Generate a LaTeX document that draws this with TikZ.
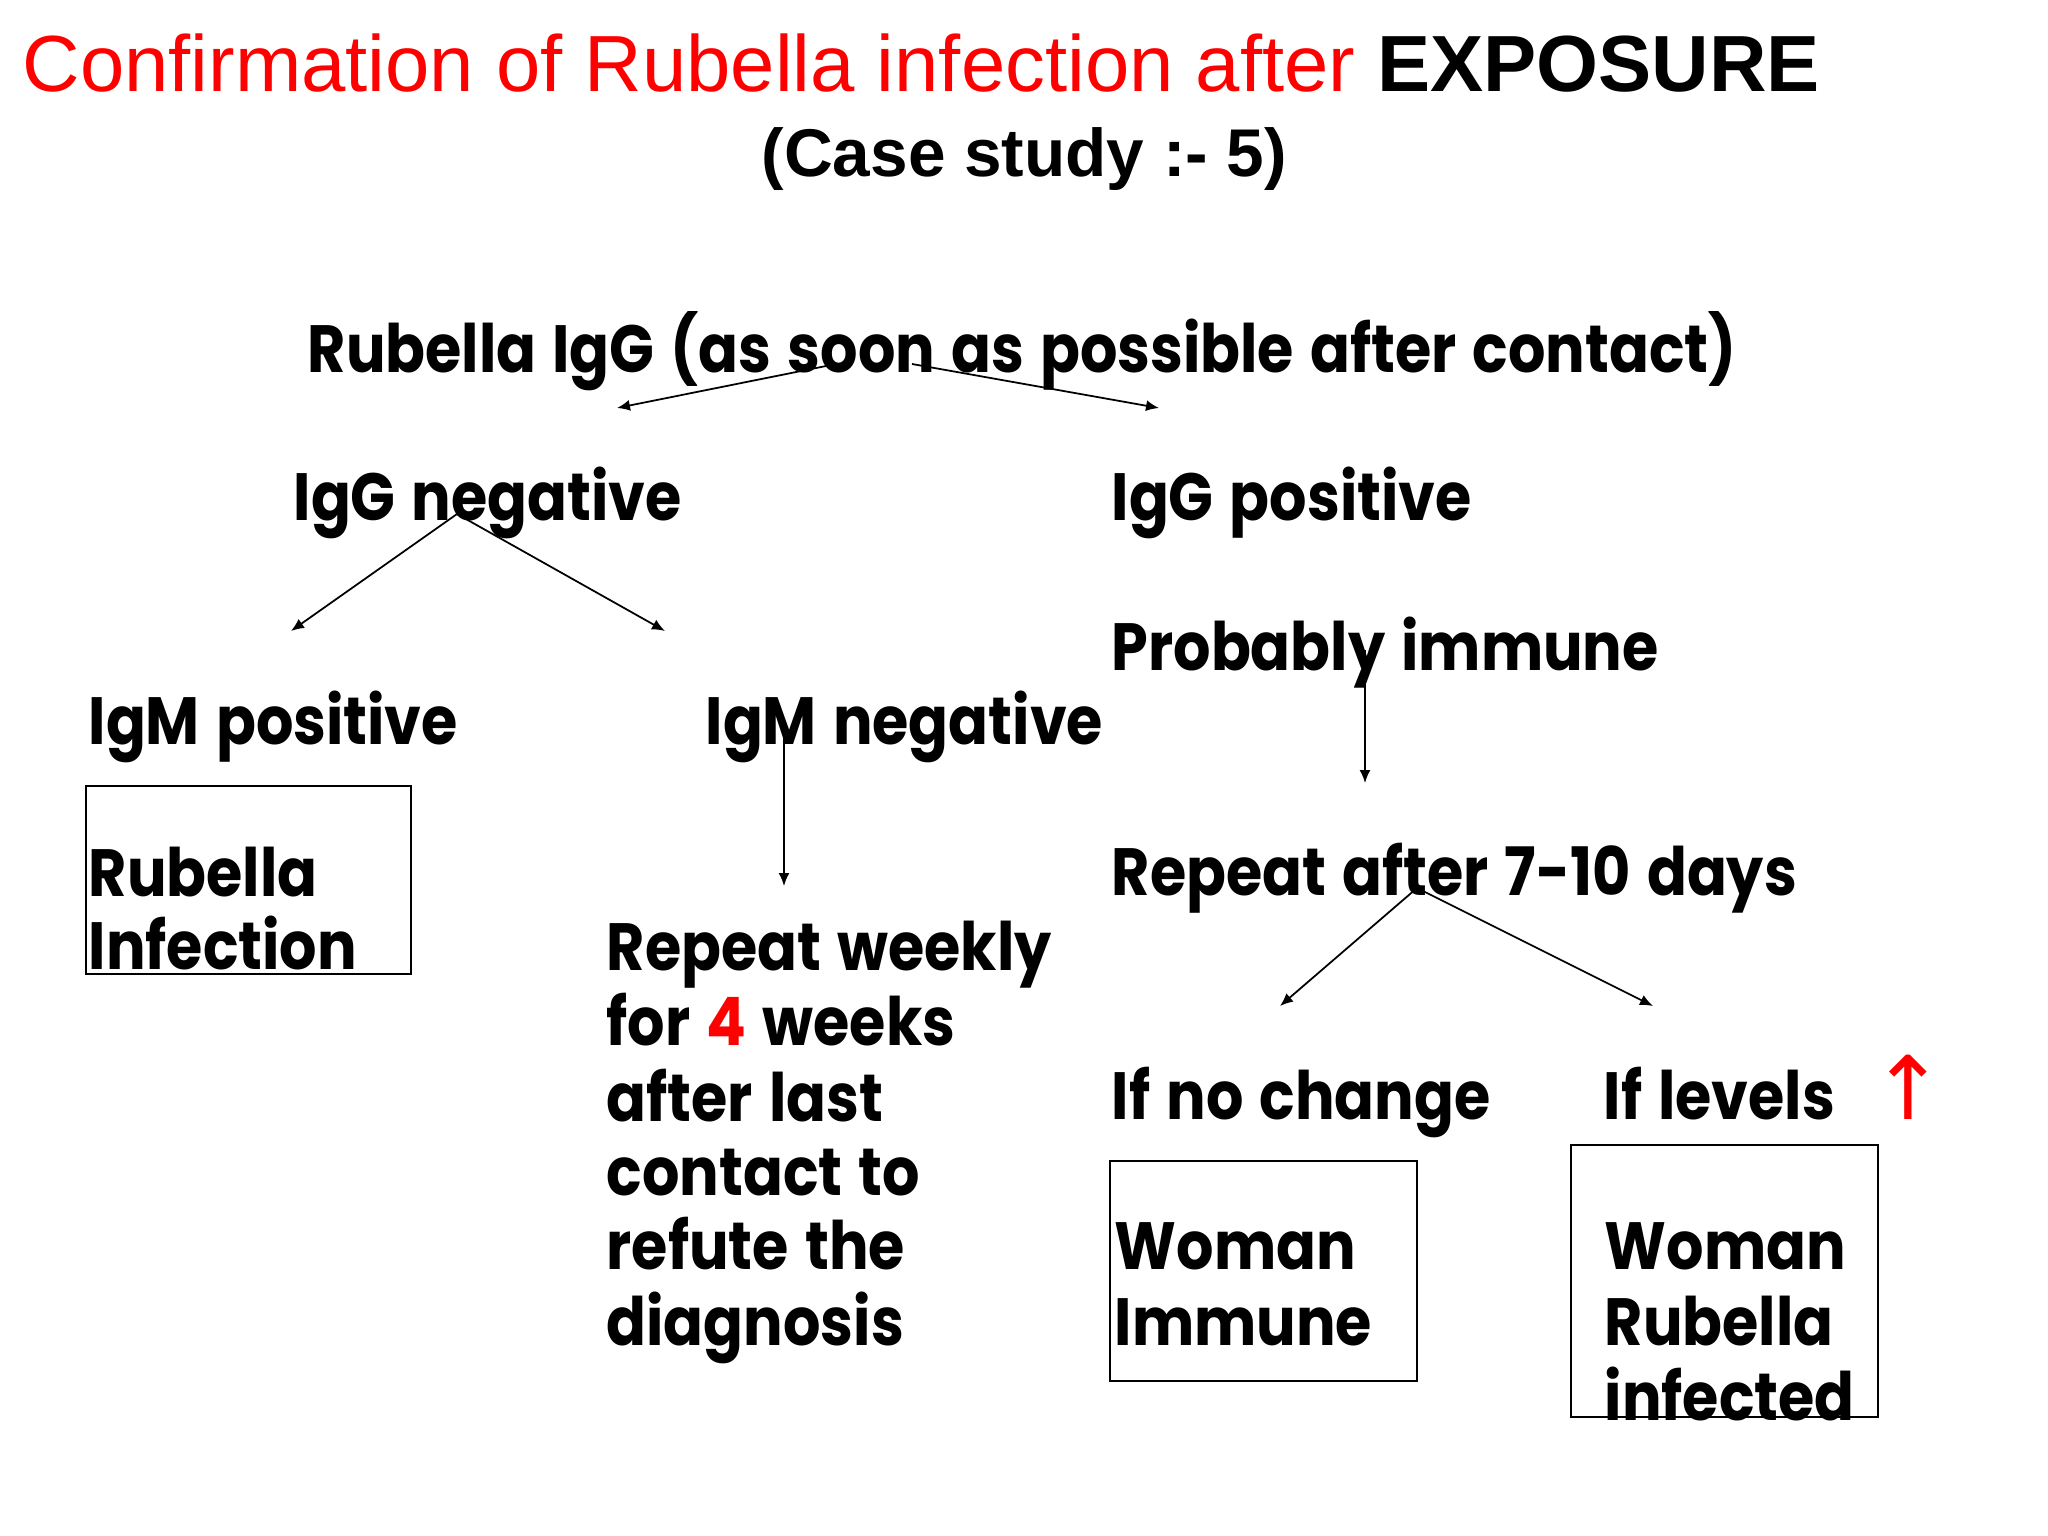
\documentclass[tikz,border=0pt]{standalone}
\usepackage{fontspec}
\setmainfont{Poppins}[FakeStretch=0.88,WordSpace=1.3]
\newfontfamily\arialf{Liberation Sans}
\newfontfamily\dejaf{DejaVu Sans}
\usetikzlibrary{arrows.meta}
\definecolor{titlered}{RGB}{255,0,0}
\begin{document}
\begin{tikzpicture}[x=0.01cm,y=-0.01cm,
  txt/.style={anchor=base west,inner sep=0pt,font=\fontsize{19}{21}\selectfont\bfseries},
  boxn/.style={draw=black,line width=0.5pt,inner sep=0pt,anchor=north west},
  arr/.style={line width=0.5pt,-{Latex[length=1.3mm,width=1.1mm]}}]
\useasboundingbox[fill=white] (0,0) rectangle (2048,1536);
% title
\node[anchor=base west,inner sep=0pt,font=\arialf\fontsize{22.65}{26}\selectfont] (title) at (22,91)
  {\textcolor{titlered}{Confirmation of Rubella infection after} \textbf{EXPOSURE}};
\node[anchor=base west,inner sep=0pt,font=\arialf\fontsize{19.2}{22}\selectfont\bfseries] (sub) at (761,176)
  {(Case study :- 5)};
% body text
\node[txt] (rub) at (307,372) {Rubella IgG (as soon as possible after contact)};
\node[txt] (ign) at (293,520) {IgG negative};
\node[txt] (igp) at (1111,520) {IgG positive};
\node[txt] (prob) at (1111,670) {Probably immune};
\node[txt] (imp) at (88,744) {IgM positive};
\node[txt] (imn) at (705,744) {IgM negative};
\node[boxn,minimum width=3.25cm,minimum height=1.88cm] (box1) at (85,785) {};
\node[txt] (ri1) at (88,896) {Rubella};
\node[txt] (ri2) at (88,969) {Infection};
\node[txt] (rep) at (1111,895) {Repeat after 7-10 days};
\node[txt] (rw1) at (606,970) {Repeat weekly};
\node[txt] (rw2) at (606,1045) {for \textcolor{titlered}{4} weeks};
\node[txt] (rw3) at (606,1121) {after last};
\node[txt] (rw4) at (606,1195) {contact to};
\node[txt] (rw5) at (606,1269) {refute the};
\node[txt] (rw6) at (606,1345) {diagnosis};
\node[txt] (noch) at (1111,1119) {If no change};
\node[txt] (lev) at (1603,1119) {If levels\hspace{0.55em}\textcolor{titlered}{\dejaf\mdseries\fontsize{25}{25}\selectfont ↑}};
\node[boxn,minimum width=3.07cm,minimum height=2.20cm] (box2) at (1109,1160) {};
\node[txt] (wi1) at (1114,1269) {Woman};
\node[txt] (wi2) at (1114,1345) {Immune};
\node[boxn,minimum width=3.07cm,minimum height=2.72cm] (box3) at (1570,1144) {};
\node[txt] (wr1) at (1604,1269) {Woman};
\node[txt] (wr2) at (1604,1345) {Rubella};
\node[txt] (wr3) at (1604,1420) {infected};
% connector points
\coordinate (a1s) at (836,364); \coordinate (a1e) at (617,408);
\coordinate (a2s) at (912,364); \coordinate (a2e) at (1159,408);
\coordinate (a3s) at (457,514); \coordinate (a3e) at (291,631);
\coordinate (a4e) at (665,631);
\coordinate (a5s) at (784,738); \coordinate (a5e) at (784,886);
\coordinate (a6s) at (1365,650); \coordinate (a6e) at (1365,783);
\coordinate (a7s) at (1417,888); \coordinate (a7e) at (1280,1006);
\coordinate (a8e) at (1653,1006);
\draw[arr] (a1s) -- (a1e);
\draw[arr] (a2s) -- (a2e);
\draw[arr] (a3s) -- (a3e);
\draw[arr] (a3s) -- (a4e);
\draw[arr] (a5s) -- (a5e);
\draw[arr] (a6s) -- (a6e);
\draw[arr] (a7s) -- (a7e);
\draw[arr] (a7s) -- (a8e);
\end{tikzpicture}
\end{document}
